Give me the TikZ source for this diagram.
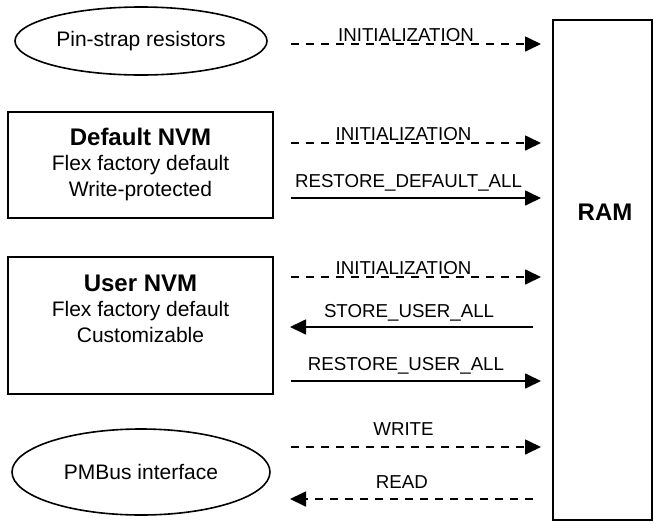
\documentclass[tikz,border=0pt]{standalone}
\usepackage{fontspec}
\setmainfont{Liberation Sans}
\usetikzlibrary{positioning,arrows.meta,shapes.geometric}
\tikzset{
  node-box/.style={draw,line width=1.6pt,inner sep=0pt},
  node-oval/.style={draw,ellipse,line width=1.6pt,inner sep=0pt,
    font=\fontsize{21}{25}\selectfont},
  node-text/.style={inner sep=0pt,align=center,
    font=\fontsize{21}{25.5}\selectfont},
  node-title/.style={font=\bfseries\fontsize{24}{28}\selectfont},
  arrow/.style={-{Triangle[length=16pt,width=15pt]},line width=1.7pt},
  arrow-dash/.style={arrow,dash pattern=on 8pt off 7pt},
  lbl/.style={inner sep=0pt,anchor=base,font=\fontsize{18.7}{22}\selectfont},
}

\begin{document}
\begin{tikzpicture}[x=1pt,y=-1pt]
  \useasboundingbox (0,0) rectangle (654,523);
  % sources
  \node[node-oval,minimum width=252pt,minimum height=68pt] (pins) at (141,41) {Pin-strap resistors};
  \node[node-box,minimum width=265pt,minimum height=106pt] (dnvm) at (140.5,165) {};
  \node[node-text,anchor=north] (dnvm-txt) at (140.5,127.5)
    {{\bfseries\fontsize{24}{28}\selectfont Default NVM}\\Flex factory default\\Write-protected};
  \node[node-box,minimum width=265pt,minimum height=137pt] (unvm) at (140.5,325.5) {};
  \node[node-text,anchor=north] (unvm-txt) at (140.5,274.5)
    {{\bfseries\fontsize{24}{28}\selectfont User NVM}\\Flex factory default\\Customizable};
  \node[node-oval,minimum width=258pt,minimum height=86pt] (pmbus) at (141,472) {PMBus interface};
  % target
  \node[node-box,minimum width=99pt,minimum height=500pt] (ram) at (602.5,270) {};
  \node[node-title,inner sep=0pt] (ram-txt) at (605,212) {RAM};
  % arrow ends
  \coordinate (init1-a) at (291,44);  \coordinate (init1-b) at (541,44);
  \coordinate (init2-a) at (291,143); \coordinate (init2-b) at (541,143);
  \coordinate (rdef-a)  at (291,198); \coordinate (rdef-b)  at (541,198);
  \coordinate (init3-a) at (291,277); \coordinate (init3-b) at (541,277);
  \coordinate (suser-a) at (533,327); \coordinate (suser-b) at (290,327);
  \coordinate (ruser-a) at (291,381); \coordinate (ruser-b) at (541,381);
  \coordinate (wr-a)    at (291,447); \coordinate (wr-b)    at (541,447);
  \coordinate (rd-a)    at (533,499); \coordinate (rd-b)    at (290,499);
  \draw[arrow-dash] (init1-a) -- node[lbl,pos=.46,yshift=3pt] (init1-lbl) {INITIALIZATION} (init1-b);
  \draw[arrow-dash] (init2-a) -- node[lbl,pos=.45,yshift=3pt] (init2-lbl) {INITIALIZATION} (init2-b);
  \draw[arrow] (rdef-a) -- node[lbl,pos=.47,yshift=11pt] (rdef-lbl) {RESTORE\_DEFAULT\_ALL} (rdef-b);
  \draw[arrow-dash] (init3-a) -- node[lbl,pos=.45,yshift=3pt] (init3-lbl) {INITIALIZATION} (init3-b);
  \draw[arrow] (suser-a) -- node[lbl,pos=.51,yshift=10pt] (suser-lbl) {STORE\_USER\_ALL} (suser-b);
  \draw[arrow] (ruser-a) -- node[lbl,pos=.46,yshift=11pt] (ruser-lbl) {RESTORE\_USER\_ALL} (ruser-b);
  \draw[arrow-dash] (wr-a) -- node[lbl,pos=.45,yshift=12pt] (wr-lbl) {WRITE} (wr-b);
  \draw[arrow-dash] (rd-a) -- node[lbl,pos=.54,yshift=11pt] (rd-lbl) {READ} (rd-b);
\end{tikzpicture}
\end{document}
